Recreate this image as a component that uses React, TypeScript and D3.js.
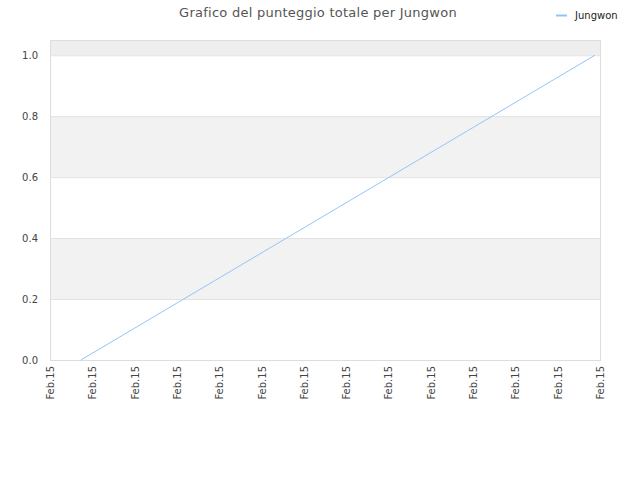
import React, { useRef, useEffect } from 'react'
import * as d3 from 'd3'

// chart data
const title = 'Grafico del punteggio totale per Jungwon'
const seriesName = 'Jungwon'
const xTickLabels = Array.from({ length: 14 }, () => 'Feb.15')
const xValues = [0.73, 12.88]
const yValues = [0, 1]
const yTicks = [0, 0.2, 0.4, 0.6, 0.8, 1.0]

export default function App() {
  const svgRef = useRef<SVGSVGElement>(null)
  const width = 640
  const height = 480

  useEffect(() => {
    if (!svgRef.current) return
    d3.select(svgRef.current).selectAll('*').remove()

    const svg = d3.select(svgRef.current)
    const font = 'DejaVu Sans, sans-serif'
    const margin = { top: 40, right: 40, bottom: 120, left: 50 }
    const plotW = width - margin.left - margin.right
    const plotH = height - margin.top - margin.bottom

    const x = d3.scaleLinear()
      .domain([0, xTickLabels.length - 1])
      .range([margin.left, margin.left + plotW])
    const y = d3.scaleLinear()
      .domain([0, 1.05])
      .range([margin.top + plotH, margin.top])

    // alternating bands
    const bandEdges = [...yTicks, 1.2]
    for (let i = 0; i < bandEdges.length - 1; i++) {
      if (i % 2 === 0) continue
      const y0 = y(bandEdges[i])
      const y1 = Math.max(y(bandEdges[i + 1]), margin.top)
      svg.append('rect')
        .attr('x', margin.left)
        .attr('y', y1)
        .attr('width', plotW)
        .attr('height', y0 - y1)
        .attr('fill', i === bandEdges.length - 2 ? '#eeeeee' : '#f2f2f2')
    }

    // grid lines
    svg.append('g')
      .selectAll('line')
      .data(yTicks.slice(1))
      .join('line')
      .attr('x1', margin.left)
      .attr('x2', margin.left + plotW)
      .attr('y1', d => y(d) + 0.5)
      .attr('y2', d => y(d) + 0.5)
      .attr('stroke', '#e2e2e2')
      .attr('stroke-width', 1)

    // plot border
    svg.append('rect')
      .attr('x', margin.left + 0.5)
      .attr('y', margin.top + 0.5)
      .attr('width', plotW)
      .attr('height', plotH)
      .attr('fill', 'none')
      .attr('stroke', '#dddddd')
      .attr('stroke-width', 1)

    // y labels
    svg.append('g')
      .selectAll('text')
      .data(yTicks)
      .join('text')
      .attr('x', margin.left - 12)
      .attr('y', d => y(d) + 4)
      .attr('text-anchor', 'end')
      .attr('font-family', font)
      .attr('font-size', '10px')
      .attr('fill', '#444')
      .text(d => d.toFixed(1))

    // x labels
    svg.append('g')
      .selectAll('text')
      .data(xTickLabels)
      .join('text')
      .attr('transform', (_, i) => `translate(${x(i) + 4}, ${margin.top + plotH + 6}) rotate(-90)`)
      .attr('text-anchor', 'end')
      .attr('font-family', font)
      .attr('font-size', '10px')
      .attr('fill', '#444')
      .text(d => d)

    // series line
    const line = d3.line<number>()
      .x((_, i) => x(xValues[i]))
      .y(d => y(d))
    svg.append('path')
      .datum(yValues)
      .attr('d', line)
      .attr('fill', 'none')
      .attr('stroke', '#92c5f7')
      .attr('stroke-width', 1)

    // title
    svg.append('text')
      .attr('x', 318)
      .attr('y', 17)
      .attr('text-anchor', 'middle')
      .attr('font-family', font)
      .attr('font-size', '13px')
      .attr('letter-spacing', '0.25px')
      .attr('fill', '#555')
      .text(title)

    // legend
    svg.append('line')
      .attr('x1', 556)
      .attr('x2', 567)
      .attr('y1', 15.5)
      .attr('y2', 15.5)
      .attr('stroke', '#92c5f7')
      .attr('stroke-width', 2)
    svg.append('text')
      .attr('x', 575)
      .attr('y', 19)
      .attr('font-family', font)
      .attr('font-size', '10px')
      .attr('fill', '#222')
      .text(seriesName)
  }, [])

  return (
    <svg
      ref={svgRef}
      width={width}
      height={height}
      style={{ position: 'absolute', left: 0, top: 0, background: '#fff' }}
    />
  )
}
